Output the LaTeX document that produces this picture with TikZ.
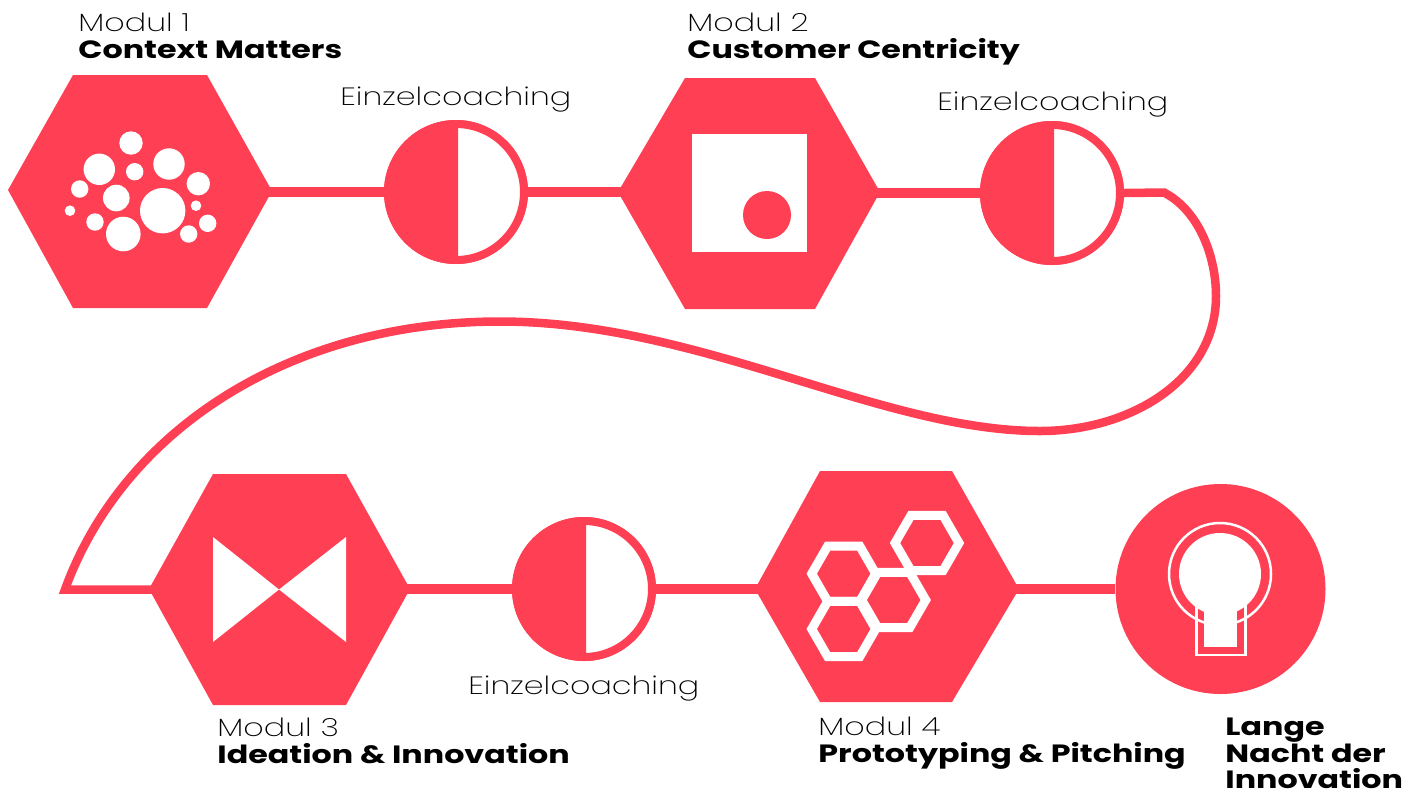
\documentclass[tikz,border=0pt]{standalone}
\usepackage{fontspec}
\setmainfont{Poppins}
\newfontfamily\lightf[FakeStretch=1.27]{Poppins ExtraLight}
\newfontfamily\boldf[FakeStretch=1.27]{Poppins Bold}
\definecolor{brand}{HTML}{FF4054}
\tikzset{
  x=0.5pt,y=-0.5pt,
  hexshape/.style={fill=brand,draw=none},
  hole/.style={fill=white,draw=none},
  halfring/.style={circle,draw=brand,fill=white,line width=4pt,minimum size=68pt,inner sep=0pt},
  link/.style={draw=brand,line width=5pt},
  curveline/.style={draw=brand,line width=4.25pt,miter limit=20},
  modlight/.style={anchor=base west,inner sep=0pt,font=\lightf\fontsize{12.5}{15}\selectfont,text=black},
  modbold/.style={anchor=base west,inner sep=0pt,font=\boldf\fontsize{12.5}{15}\selectfont,text=black},
  honey/.style={draw=white,line width=4.5pt,line join=miter},
}
\newcommand{\halffill}[1]{%
  \begin{scope}
    \clip (#1.center) ++(-90,-90) rectangle ++(92,180);
    \fill[brand] (#1.center) circle[radius=70];
  \end{scope}}
\newcommand{\honeycell}[2]{%
  \draw[honey] (#1-32,#2) -- (#1-16,#2-27.7) -- (#1+16,#2-27.7) -- (#1+32,#2) -- (#1+16,#2+27.7) -- (#1-16,#2+27.7) -- cycle;}
\begin{document}
\begin{tikzpicture}
\useasboundingbox (0,0) rectangle (1414,789);
% end points
\coordinate (h1r) at (268,192);
\coordinate (h2l) at (622,192);
\coordinate (h2r) at (876,193);
\coordinate (h3l) at (153,589.5);
\coordinate (h3r) at (406,589);
\coordinate (h4l) at (759,589);
\coordinate (h4r) at (1015,589);
\coordinate (bend) at (1164,192.5);
\node[halfring] (c1) at (456,192) {};
\node[halfring] (c2) at (1052,193) {};
\node[halfring] (c3) at (584,589) {};
\node[circle,fill=brand,minimum size=105pt,inner sep=0pt] (big) at (1220.5,589) {};
% connectors
\draw[link] (h1r) -- (c1);
\draw[link] (c1) -- (h2l);
\draw[link] (h2r) -- (c2);
\draw[link] (h3r) -- (c3);
\draw[link] (c3) -- (h4l);
\draw[link] (h4r) -- (big);
\draw[curveline] (c2.east) -- (bend) .. controls (1198,210) and (1216,255) .. (1216,296)
  .. controls (1216,380) and (1130,431) .. (1040,431)
  .. controls (880,431) and (700,321.5) .. (500,321.5)
  .. controls (290,321.5) and (123,430) .. (65,589.5) -- (h3l);
% redraw half circles
\node[halfring] at (c1) {};
\node[halfring] at (c2) {};
\node[halfring] at (c3) {};
\halffill{c1}\halffill{c2}\halffill{c3}
% hexagons
\fill[hexshape] (8,190) -- (73,75) -- (207,75) -- (272,191) -- (207,308) -- (73,308) -- cycle;
\fill[hexshape] (618,192) -- (685,78) -- (815,78) -- (880,192) -- (815,309) -- (685,309) -- cycle;
\fill[hexshape] (149,589) -- (213,474) -- (346,474) -- (410,589) -- (346,705) -- (213,705) -- cycle;
\fill[hexshape] (755,589) -- (820,471) -- (952,471) -- (1019,589) -- (952,702) -- (820,702) -- cycle;
% module 1 bubbles
\foreach \cx/\cy/\r in {131/143/11.7,99.3/169.3/15.7,134.7/171.7/8.7,169/164/15.7,198.3/183.7/11.7,79.7/189/8.7,116.3/198/13.3,162.7/210.7/22.7,196/205.7/5.3,70/210.7/5.3,95/222/8.7,123.3/234/17.3,188.7/234/8.7,207.7/223.3/8.7}
  \fill[hole] (\cx,\cy) circle[radius=\r];
% module 2 icon
\fill[hole] (692,134) rectangle (807,252);
\fill[brand] (767,215) circle[radius=24];
% module 3 icon
\fill[hole] (213,537) -- (279,589.5) -- (213,642) -- cycle;
\fill[hole] (346,537) -- (279,589.5) -- (346,642) -- cycle;
% module 4 icon
\honeycell{843.7}{573.7}
\honeycell{843.7}{629}
\honeycell{893.7}{600}
\honeycell{927}{543}
% lamp icon
\fill[hole] (1220,574) circle[radius=41];
\fill[hole] (1204,600) rectangle (1237,647);
\draw[white,line width=1.25pt] (1220,574) circle[radius=51];
\draw[white,line width=1.25pt] (1196.5,605) -- (1196.5,655) -- (1245.5,655) -- (1245.5,605);
% texts
\node[modlight] (t1a) at (78,31) {Modul 1};
\node[modbold] (t1b) at (78,58) {Context Matters};
\node[modlight] (t2a) at (687,31) {Modul 2};
\node[modbold] (t2b) at (687,58) {Customer Centricity};
\node[modlight] (t3a) at (217,736) {Modul 3};
\node[modbold] (t3b) at (217,763) {Ideation \& Innovation};
\node[modlight] (t4a) at (818,735) {Modul 4};
\node[modbold] (t4b) at (818,762) {Prototyping \& Pitching};
\node[modlight] (e1) at (340,105) {Einzelcoaching};
\node[modlight] (e2) at (937,110) {Einzelcoaching};
\node[modlight] (e3) at (468,694) {Einzelcoaching};
\node[modbold] (n1) at (1225,735) {Lange};
\node[modbold] (n2) at (1225,762) {Nacht der};
\node[modbold] (n3) at (1225,788.5) {Innovation};
\end{tikzpicture}
\end{document}
